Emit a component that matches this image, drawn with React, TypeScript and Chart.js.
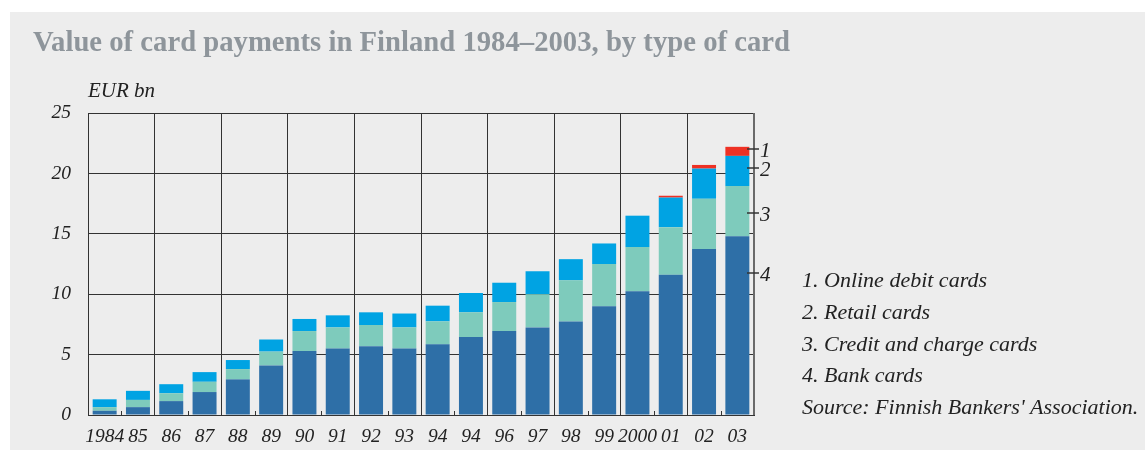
import React, { useEffect, useRef } from 'react';
import { Chart, registerables } from 'chart.js';

Chart.register(...registerables);

const titleText = 'Value of card payments in Finland 1984\u20132003, by type of card';
const unitLabel = 'EUR bn';
const years = ['1984', '85', '86', '87', '88', '89', '90', '91', '92', '93', '94', '94', '96', '97', '98', '99', '2000', '01', '02', '03'];
const bankCards = [0.35, 0.65, 1.15, 1.9, 2.95, 4.1, 5.3, 5.5, 5.7, 5.5, 5.85, 6.45, 6.95, 7.25, 7.75, 9.0, 10.25, 11.6, 13.75, 14.8];
const creditCards = [0.3, 0.6, 0.65, 0.85, 0.85, 1.15, 1.65, 1.75, 1.75, 1.75, 1.9, 2.05, 2.4, 2.75, 3.4, 3.5, 3.65, 3.95, 4.15, 4.15];
const retailCards = [0.65, 0.75, 0.75, 0.8, 0.75, 1.0, 1.0, 1.0, 1.05, 1.15, 1.3, 1.6, 1.6, 1.9, 1.75, 1.7, 2.6, 2.45, 2.5, 2.5];
const onlineDebitCards = [0, 0, 0, 0, 0, 0, 0, 0, 0, 0, 0, 0, 0, 0, 0, 0, 0, 0.15, 0.3, 0.75];
const seriesMarkers = ['1', '2', '3', '4'];
const seriesMarkerValues = [22.0, 20.45, 16.7, 11.75];
const legendLines = [
  '1. Online debit cards',
  '2. Retail cards',
  '3. Credit and charge cards',
  '4. Bank cards',
  "Source: Finnish Bankers' Association.",
];

const SERIF = '"Liberation Serif", "DejaVu Serif", serif';
const INK = '#222222';
const GRID = '#333333';

const decorPlugin = {
  id: 'decor',
  beforeDraw(chart: any) {
    const { ctx, width, height } = chart;
    ctx.save();
    ctx.fillStyle = '#ffffff';
    ctx.fillRect(0, 0, width, height);
    ctx.fillStyle = '#ededed';
    ctx.fillRect(10, 12, width - 10, height - 12);
    ctx.restore();
  },
  afterDatasetsDraw(chart: any) {
    const { ctx, chartArea } = chart;
    const xs = chart.scales.x;
    const ys = chart.scales.y;
    ctx.save();
    ctx.strokeStyle = GRID;
    ctx.lineWidth = 1;
    const half = (xs.getPixelForValue(1) - xs.getPixelForValue(0)) / 2;
    for (let i = 1; i < years.length; i += 2) {
      const px = Math.round(xs.getPixelForValue(i) - half) + 0.5;
      ctx.beginPath();
      ctx.moveTo(px, chartArea.bottom);
      ctx.lineTo(px, chartArea.bottom - 4);
      ctx.stroke();
    }
    ctx.strokeStyle = '#6a6a6a';
    ctx.lineWidth = 2;
    ctx.beginPath();
    ctx.moveTo(chartArea.right, chartArea.top);
    ctx.lineTo(chartArea.right, chartArea.bottom);
    ctx.stroke();
    ctx.strokeStyle = '#333';
    ctx.lineWidth = 1.5;
    ctx.fillStyle = INK;
    ctx.font = `italic 21px ${SERIF}`;
    ctx.textBaseline = 'middle';
    ctx.textAlign = 'left';
    seriesMarkers.forEach((m, i) => {
      const py = Math.round(ys.getPixelForValue(seriesMarkerValues[i]));
      ctx.beginPath();
      ctx.moveTo(chartArea.right - 7, py);
      ctx.lineTo(chartArea.right + 5, py);
      ctx.stroke();
      ctx.fillText(m, chartArea.right + 6, py + 2);
    });
    ctx.restore();
  },
  afterDraw(chart: any) {
    const { ctx, chartArea } = chart;
    ctx.save();
    ctx.fillStyle = '#8e959b';
    ctx.font = `bold 29px ${SERIF}`;
    ctx.textBaseline = 'alphabetic';
    ctx.textAlign = 'left';
    ctx.fillText(titleText, 33, 51, 757);
    ctx.fillStyle = INK;
    ctx.font = `italic 21px ${SERIF}`;
    ctx.fillText(unitLabel, chartArea.left, 97);
    ctx.font = `italic 22px ${SERIF}`;
    legendLines.forEach((line, i) => {
      ctx.fillText(line, 802, 287 + i * 31.8);
    });
    ctx.restore();
  },
};

export default function App() {
  const canvasRef = useRef<HTMLCanvasElement | null>(null);

  useEffect(() => {
    if (!canvasRef.current) return;
    const chart = new Chart(canvasRef.current, {
      type: 'bar',
      data: {
        labels: years,
        datasets: [
          { label: 'Bank cards', data: bankCards, backgroundColor: '#2e6fa7' },
          { label: 'Credit and charge cards', data: creditCards, backgroundColor: '#7ecbbc' },
          { label: 'Retail cards', data: retailCards, backgroundColor: '#00a3e3' },
          { label: 'Online debit cards', data: onlineDebitCards, backgroundColor: '#ee3124' },
        ],
      },
      options: {
        responsive: false,
        animation: false,
        devicePixelRatio: 1,
        layout: { padding: { left: 0, top: 113, right: 391, bottom: 0 } },
        datasets: { bar: { barPercentage: 0.72, categoryPercentage: 1.0, borderWidth: 0 } },
        plugins: { legend: { display: false }, tooltip: { enabled: false }, title: { display: false } },
        scales: {
          x: {
            stacked: true,
            grid: {
              offset: true,
              drawTicks: false,
              lineWidth: 1,
              color: (ctx: any) => (ctx.index === undefined || ctx.index % 2 === 0 ? GRID : 'rgba(0,0,0,0)'),
            },
            border: { display: true, color: GRID, width: 1 },
            ticks: {
              autoSkip: false,
              maxRotation: 0,
              padding: 10,
              color: INK,
              font: { family: SERIF, size: 19.5, style: 'italic' },
            },
            afterFit: (s: any) => {
              s.height = 35;
            },
          },
          y: {
            stacked: true,
            min: 0,
            max: 25,
            grid: { drawTicks: false, color: GRID, lineWidth: 1 },
            border: { display: true, color: GRID, width: 1 },
            ticks: {
              stepSize: 5,
              padding: 17,
              color: INK,
              font: { family: SERIF, size: 19.5, style: 'italic' },
            },
            afterFit: (s: any) => {
              s.width = 88;
            },
          },
        },
      },
      plugins: [decorPlugin],
    } as any);
    return () => chart.destroy();
  }, []);

  return (
    <div style={{ position: 'fixed', left: 0, top: 0, width: 1145, height: 450 }}>
      <canvas ref={canvasRef} width={1145} height={450} style={{ display: 'block', width: 1145, height: 450 }} />
    </div>
  );
}
